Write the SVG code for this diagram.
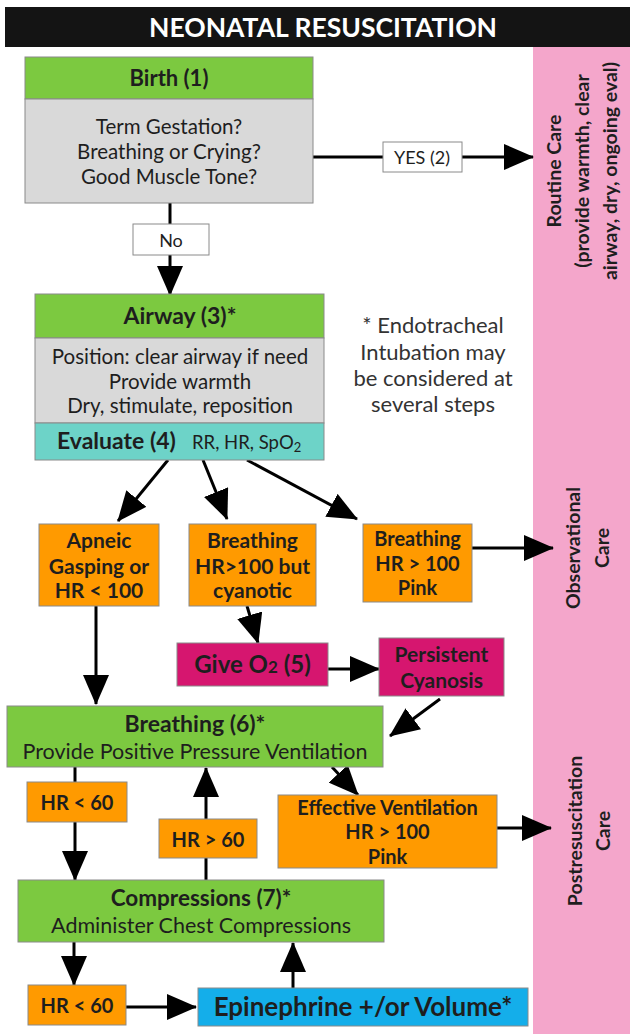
<svg xmlns="http://www.w3.org/2000/svg" width="630" height="1034" viewBox="0 0 630 1034">
  <style>
    text { font-family: Lato, "Liberation Sans", sans-serif; fill: #1e1e1e; text-anchor: middle; }
    .b { font-weight: bold; }
    .box { stroke: #8a8a8a; stroke-width: 1; }
    .green { fill: #7CC940; }
    .gray { fill: #D9D9D9; }
    .teal { fill: #6DD3C8; }
    .orange { fill: #FF9A00; }
    .mag { fill: #D6166F; }
    .blue { fill: #14AEEA; }
    .lbl { fill: #ffffff; stroke: #8a8a8a; stroke-width: 1; }
    .c { stroke: #000; stroke-width: 3; fill: none; marker-end: url(#ah); }
    .side { font-weight: bold; font-size: 19.5px; }
    .note { fill: #333; font-size: 22px; }
    .ob { font-weight: bold; font-size: 21px; }
  </style>
  <defs>
    <marker id="ah" markerUnits="userSpaceOnUse" markerWidth="30" markerHeight="26" refX="29" refY="13" orient="auto">
      <path d="M0,0 L30,13 L0,26 z" fill="#000"/>
    </marker>
  </defs>

  <rect width="630" height="1034" fill="#ffffff"/>

  <g id="title">
    <rect x="5" y="7" width="625" height="40" fill="#141414"/>
    <text x="323" y="37" class="b" style="fill:#ffffff;font-size:26.5px">NEONATAL RESUSCITATION</text>
  </g>

  <g id="care-panel">
    <rect x="533" y="47" width="97" height="987" fill="#F4A6CB"/>
  </g>

  <g id="connectors">
    <line class="c" x1="170" y1="203" x2="170" y2="295"/>
    <line class="c" x1="313" y1="157" x2="533" y2="157"/>
    <line class="c" x1="168" y1="460" x2="118" y2="521"/>
    <line class="c" x1="203" y1="460" x2="227" y2="519"/>
    <line class="c" x1="247" y1="460" x2="357" y2="519"/>
    <line class="c" x1="472" y1="548" x2="553" y2="548"/>
    <line class="c" x1="96" y1="606" x2="96" y2="704"/>
    <line class="c" x1="247" y1="606" x2="258" y2="643"/>
    <line class="c" x1="328" y1="669" x2="379" y2="669"/>
    <line class="c" x1="440" y1="699" x2="390" y2="736"/>
    <line class="c" x1="332" y1="767" x2="358" y2="795"/>
    <line class="c" x1="497" y1="828" x2="551" y2="828"/>
    <line class="c" x1="75" y1="767" x2="75" y2="880"/>
    <line class="c" x1="206" y1="880" x2="206" y2="768"/>
    <line class="c" x1="74" y1="942" x2="74" y2="985"/>
    <line class="c" x1="126" y1="1007" x2="196" y2="1007"/>
    <line class="c" x1="293" y1="988" x2="293" y2="943"/>
    <rect class="lbl" x="133" y="224" width="76" height="31"/>
    <text x="171" y="246.5" style="font-size:18px">No</text>
    <rect class="lbl" x="383" y="142" width="79" height="30"/>
    <text x="422" y="163.5" style="font-size:18px">YES (2)</text>
  </g>

  <g id="birth">
    <rect class="box green" x="25" y="57" width="288" height="42"/>
    <rect class="box gray" x="25" y="99" width="288" height="104"/>
    <text x="169" y="85.5" class="b" style="font-size:22px">Birth (1)</text>
    <text x="169" y="134" style="font-size:20.5px">Term Gestation?</text>
    <text x="169" y="159" style="font-size:20.5px">Breathing or Crying?</text>
    <text x="169" y="184" style="font-size:20.5px">Good Muscle Tone?</text>
  </g>

  <g id="routine-care">
    <g transform="translate(554,171) rotate(-90)"><text class="side" y="7">Routine Care</text></g>
    <g transform="translate(582,171) rotate(-90)"><text class="side" y="7">(provide warmth, clear</text></g>
    <g transform="translate(610,171) rotate(-90)"><text class="side" y="7">airway, dry, ongoing eval)</text></g>
  </g>

  <g id="airway">
    <rect class="box green" x="35" y="294" width="289" height="44"/>
    <rect class="box gray" x="35" y="338" width="289" height="85"/>
    <rect class="box teal" x="35" y="423" width="289" height="37"/>
    <text x="180" y="324" class="b" style="font-size:23px">Airway (3)*</text>
    <text x="180" y="364" style="font-size:20.5px">Position: clear airway if need</text>
    <text x="180" y="388.5" style="font-size:20.5px">Provide warmth</text>
    <text x="180" y="413" style="font-size:20.5px">Dry, stimulate, reposition</text>
    <text x="57" y="449" class="b" style="font-size:23px;text-anchor:start">Evaluate (4)</text>
    <text x="192" y="449" style="font-size:18.5px;text-anchor:start">RR, HR, SpO<tspan style="font-size:13px" dy="3">2</tspan></text>
  </g>

  <g id="note">
    <text x="433" y="333" class="note">* Endotracheal</text>
    <text x="433" y="360" class="note">Intubation may</text>
    <text x="433" y="386" class="note">be considered at</text>
    <text x="433" y="412" class="note">several steps</text>
  </g>

  <g id="apneic">
    <rect class="box orange" x="39" y="524" width="120" height="82"/>
    <text x="99" y="548" class="ob">Apneic</text>
    <text x="99" y="573.5" class="ob">Gasping or</text>
    <text x="99" y="598" class="ob">HR &lt; 100</text>
  </g>

  <g id="cyanotic">
    <rect class="box orange" x="189" y="524" width="127" height="82"/>
    <text x="252.5" y="548" class="ob">Breathing</text>
    <text x="252.5" y="573.5" class="ob">HR&gt;100 but</text>
    <text x="252.5" y="598" class="ob">cyanotic</text>
  </g>

  <g id="pink">
    <rect class="box orange" x="363" y="524" width="109" height="78"/>
    <text x="417.5" y="546" class="b" style="font-size:20px">Breathing</text>
    <text x="417.5" y="570.5" class="b" style="font-size:20px">HR &gt; 100</text>
    <text x="417.5" y="595" class="b" style="font-size:20px">Pink</text>
  </g>

  <g id="observational-care">
    <g transform="translate(573,548) rotate(-90)"><text class="side" y="7">Observational</text></g>
    <g transform="translate(602,548) rotate(-90)"><text class="side" y="7">Care</text></g>
  </g>

  <g id="give-o2">
    <rect class="box mag" x="177" y="643" width="151" height="43"/>
    <text x="252.5" y="673" class="b" style="font-size:24px">Give O<tspan style="font-size:17px">2</tspan> (5)</text>
  </g>

  <g id="persistent">
    <rect class="box mag" x="379" y="638" width="125" height="58"/>
    <text x="441.5" y="662" class="ob">Persistent</text>
    <text x="441.5" y="687.5" class="ob">Cyanosis</text>
  </g>

  <g id="breathing">
    <rect class="box green" x="7" y="706" width="376" height="61"/>
    <text x="195" y="732" class="b" style="font-size:23px">Breathing (6)*</text>
    <text x="195" y="759" style="font-size:21.5px">Provide Positive Pressure Ventilation</text>
  </g>

  <g id="hr-lt-60-a">
    <rect class="box orange" x="27" y="782" width="100" height="40"/>
    <text x="77" y="810" class="b" style="font-size:20px">HR &lt; 60</text>
  </g>

  <g id="hr-gt-60">
    <rect class="box orange" x="159" y="819" width="98" height="39"/>
    <text x="208" y="847" class="b" style="font-size:20px">HR &gt; 60</text>
  </g>

  <g id="effective">
    <rect class="box orange" x="278" y="795" width="219" height="73"/>
    <text x="387.5" y="814.5" class="b" style="font-size:20px">Effective Ventilation</text>
    <text x="387.5" y="839" class="b" style="font-size:20px">HR &gt; 100</text>
    <text x="387.5" y="863.5" class="b" style="font-size:20px">Pink</text>
  </g>

  <g id="postresuscitation-care">
    <g transform="translate(575,831) rotate(-90)"><text class="side" y="7">Postresuscitation</text></g>
    <g transform="translate(603,831) rotate(-90)"><text class="side" y="7">Care</text></g>
  </g>

  <g id="compressions">
    <rect class="box green" x="18" y="880" width="366" height="62"/>
    <text x="201" y="906" class="b" style="font-size:22.5px">Compressions (7)*</text>
    <text x="201" y="933" style="font-size:21.5px">Administer Chest Compressions</text>
  </g>

  <g id="hr-lt-60-b">
    <rect class="box orange" x="28" y="985" width="98" height="40"/>
    <text x="77" y="1013" class="b" style="font-size:20px">HR &lt; 60</text>
  </g>

  <g id="epinephrine">
    <rect class="box blue" x="198" y="988" width="330" height="38"/>
    <text x="363" y="1016" class="b" style="font-size:26px">Epinephrine +/or Volume*</text>
  </g>
</svg>
